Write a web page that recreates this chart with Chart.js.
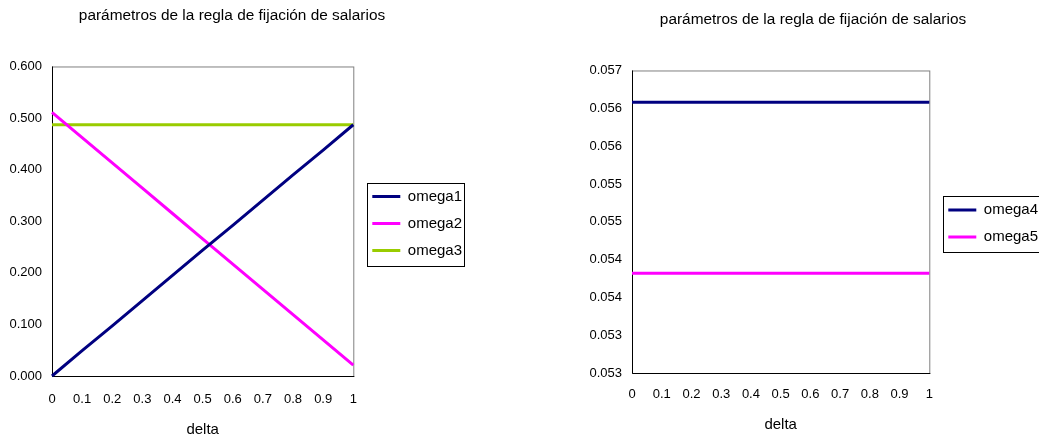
<!DOCTYPE html>
<html>
<head>
<meta charset="utf-8">
<script src="https://cdn.jsdelivr.net/npm/chart.js@4.4.0/dist/chart.umd.min.js"></script>
<style>
  body { margin: 0; background: #fff; width: 1039px; height: 441px; overflow: hidden; position: relative; }
  canvas { position: absolute; top: 0; }
</style>
</head>
<body>
<canvas id="left" width="466" height="441" style="left:-1px"></canvas>
<canvas id="right" width="456" height="441" style="left:585px"></canvas>
<script>
'use strict';
const titleText = 'parámetros de la regla de fijación de salarios';
const deltas = ['0', '0.1', '0.2', '0.3', '0.4', '0.5', '0.6', '0.7', '0.8', '0.9', '1'];

const omega1 = [0, 0.049, 0.097, 0.146, 0.195, 0.244, 0.292, 0.341, 0.390, 0.438, 0.487];
const omega2 = [0.511, 0.462, 0.413, 0.364, 0.315, 0.266, 0.217, 0.168, 0.119, 0.070, 0.021];
const omega3 = [0.487, 0.487, 0.487, 0.487, 0.487, 0.487, 0.487, 0.487, 0.487, 0.487, 0.487];
const omega4 = [0.05608, 0.05608, 0.05608, 0.05608, 0.05608, 0.05608, 0.05608, 0.05608, 0.05608, 0.05608, 0.05608];
const omega5 = [0.05382, 0.05382, 0.05382, 0.05382, 0.05382, 0.05382, 0.05382, 0.05382, 0.05382, 0.05382, 0.05382];

const rightTickValues = [0.0525, 0.053, 0.0535, 0.054, 0.0545, 0.055, 0.0555, 0.056, 0.0565];
const rightTickLabels = ['0.053', '0.053', '0.054', '0.054', '0.055', '0.055', '0.056', '0.056', '0.057'];

const navy = '#000080';
const magenta = '#ff00ff';
const lime = '#99cc00';
const fontFamily = '"Liberation Sans", Arial, sans-serif';
const legendShiftX = 7;
const legendShiftY = 3;

// gray frame on top/right, black axis lines left/bottom, box around legend
const framePlugin = {
  id: 'frame',
  afterLayout(chart) {
    // leave a small gap between plot and legend
    const lg = chart.legend;
    lg.left += legendShiftX;
    lg.right += legendShiftX;
    lg.top += legendShiftY;
    lg.bottom += legendShiftY;
  },
  beforeDatasetsDraw(chart) {
    const { ctx, chartArea: a } = chart;
    ctx.save();
    ctx.lineWidth = 1;
    ctx.strokeStyle = '#808080';
    ctx.strokeRect(a.left + 0.5, a.top + 0.5, a.right - a.left, a.bottom - a.top);
    ctx.strokeStyle = '#000';
    ctx.beginPath();
    ctx.moveTo(a.left + 0.5, a.top);
    ctx.lineTo(a.left + 0.5, a.bottom + 0.5);
    ctx.lineTo(a.right + 1, a.bottom + 0.5);
    ctx.stroke();
    ctx.restore();
  },
  afterDraw(chart) {
    const hb = chart.legend.legendHitBoxes;
    if (!hb || !hb.length) return;
    const ctx = chart.ctx;
    let l = Infinity, r = -Infinity;
    hb.forEach(h => { l = Math.min(l, h.left); r = Math.max(r, h.left + h.width); });
    const top = hb[0].top + hb[0].height / 2 - 14;
    const last = hb[hb.length - 1];
    const bottom = last.top + last.height / 2 + 15;
    ctx.save();
    ctx.strokeStyle = '#000';
    ctx.lineWidth = 1;
    ctx.strokeRect(Math.round(l - 5) + 0.5, Math.round(top) + 0.5, Math.round(r - l + 7), Math.round(bottom - top));
    ctx.restore();
  }
};

function makeDataset(label, data, color) {
  return {
    label: label,
    data: data,
    borderColor: color,
    backgroundColor: color,
    borderWidth: 3,
    pointRadius: 0,
    tension: 0,
    clip: false
  };
}

function makeOptions(cfg) {
  return {
    responsive: false,
    animation: false,
    layout: { padding: 0 },
    plugins: {
      title: {
        display: true,
        text: titleText,
        color: '#000',
        font: { family: fontFamily, size: 15.4, weight: 'normal' },
        padding: { top: cfg.titleTop, bottom: cfg.titleBottom }
      },
      legend: {
        position: 'right',
        labels: {
          color: '#000',
          font: { family: fontFamily, size: 15 },
          boxWidth: 28,
          boxHeight: 3,
          padding: 12,
          generateLabels(chart) {
            const items = Chart.defaults.plugins.legend.labels.generateLabels(chart);
            items.forEach(it => { it.lineWidth = 0; });
            return items;
          }
        }
      },
      tooltip: { enabled: false }
    },
    scales: {
      x: {
        type: 'category',
        offset: false,
        grid: { display: false, drawTicks: false },
        border: { display: false },
        ticks: { color: '#000', font: { family: fontFamily, size: 13 }, padding: cfg.xTickPad, maxRotation: 0, autoSkip: false },
        title: { display: true, text: 'delta', color: '#000', font: { family: fontFamily, size: 15 }, padding: { top: 0, bottom: cfg.xTitleBottom } },
        afterFit(scale) { scale.height = cfg.xHeight; }
      },
      y: cfg.y
    }
  };
}

new Chart(document.getElementById('left'), {
  type: 'line',
  data: {
    labels: deltas,
    datasets: [
      makeDataset('omega1', omega1, navy),
      makeDataset('omega2', omega2, magenta),
      makeDataset('omega3', omega3, lime)
    ]
  },
  options: makeOptions({
    titleTop: 7,
    titleBottom: 41,
    xTickPad: 16,
    xTitleBottom: 2,
    xHeight: 65,
    y: {
      min: 0,
      max: 0.6,
      grid: { display: false, drawTicks: false },
      border: { display: false },
      ticks: {
        stepSize: 0.1,
        color: '#000',
        font: { family: fontFamily, size: 13 },
        padding: 10,
        callback: v => Number(v).toFixed(3)
      },
      afterFit(scale) { scale.width = 53; }
    }
  }),
  plugins: [framePlugin]
});

new Chart(document.getElementById('right'), {
  type: 'line',
  data: {
    labels: deltas,
    datasets: [
      makeDataset('omega4', omega4, navy),
      makeDataset('omega5', omega5, magenta)
    ]
  },
  options: makeOptions({
    titleTop: 11,
    titleBottom: 41,
    xTickPad: 14,
    xTitleBottom: 7,
    xHeight: 68,
    y: {
      min: 0.0525,
      max: 0.0565,
      grid: { display: false, drawTicks: false },
      border: { display: false },
      afterBuildTicks(scale) { scale.ticks = rightTickValues.map(v => ({ value: v })); },
      ticks: {
        color: '#000',
        font: { family: fontFamily, size: 13 },
        padding: 10,
        callback: (v, i) => rightTickLabels[i]
      },
      afterFit(scale) { scale.width = 47; }
    }
  }),
  plugins: [framePlugin]
});
</script>
</body>
</html>
